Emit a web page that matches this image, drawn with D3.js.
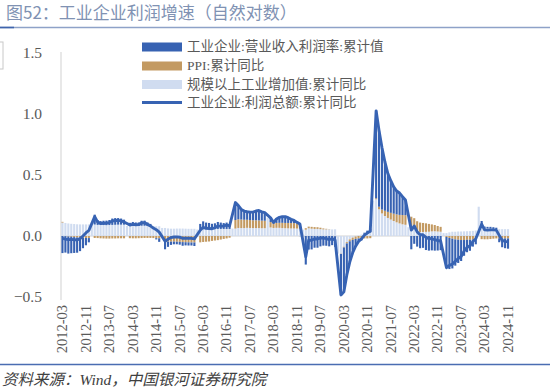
<!DOCTYPE html>
<html><head><meta charset="utf-8">
<script src="https://cdn.jsdelivr.net/npm/d3@7"></script>
<style>
html,body{margin:0;padding:0;background:#fff;}
svg{display:block;}
</style></head>
<body>
<svg id="chart" width="550" height="392"></svg>
<script>
// ---------- DATA (natural-log growth rates) ----------
const months = [
"2012-03","2012-04","2012-05","2012-06","2012-07","2012-08","2012-09","2012-10","2012-11","2012-12",
"2013-01","2013-02","2013-03","2013-04","2013-05","2013-06","2013-07","2013-08","2013-09","2013-10","2013-11","2013-12",
"2014-01","2014-02","2014-03","2014-04","2014-05","2014-06","2014-07","2014-08","2014-09","2014-10","2014-11","2014-12",
"2015-01","2015-02","2015-03","2015-04","2015-05","2015-06","2015-07","2015-08","2015-09","2015-10","2015-11","2015-12",
"2016-01","2016-02","2016-03","2016-04","2016-05","2016-06","2016-07","2016-08","2016-09","2016-10","2016-11","2016-12",
"2017-01","2017-02","2017-03","2017-04","2017-05","2017-06","2017-07","2017-08","2017-09","2017-10","2017-11","2017-12",
"2018-01","2018-02","2018-03","2018-04","2018-05","2018-06","2018-07","2018-08","2018-09","2018-10","2018-11","2018-12",
"2019-01","2019-02","2019-03","2019-04","2019-05","2019-06","2019-07","2019-08","2019-09","2019-10","2019-11","2019-12",
"2020-01","2020-02","2020-03","2020-04","2020-05","2020-06","2020-07","2020-08","2020-09","2020-10","2020-11","2020-12",
"2021-01","2021-02","2021-03","2021-04","2021-05","2021-06","2021-07","2021-08","2021-09","2021-10","2021-11","2021-12",
"2022-01","2022-02","2022-03","2022-04","2022-05","2022-06","2022-07","2022-08","2022-09","2022-10","2022-11","2022-12",
"2023-01","2023-02","2023-03","2023-04","2023-05","2023-06","2023-07","2023-08","2023-09","2023-10","2023-11","2023-12",
"2024-01","2024-02","2024-03","2024-04","2024-05","2024-06","2024-07","2024-08","2024-09","2024-10","2024-11"
];

// 工业企业:营业收入利润率:累计值 (contribution)
const margin = [
-0.140,-0.135,-0.140,-0.135,-0.130,-0.125,-0.110,-0.085,-0.060,-0.035,
null,0.081,0.040,0.032,0.035,0.037,0.041,0.052,0.055,0.054,0.050,0.041,
null,0.026,0.032,0.028,0.028,0.041,0.042,0.029,0.017,0.001,-0.010,-0.029,
null,-0.063,-0.043,-0.027,-0.022,-0.021,-0.023,-0.030,-0.026,-0.026,-0.025,-0.029,
null,0.046,0.064,0.054,0.050,0.042,0.046,0.057,0.052,0.048,0.052,0.038,
null,0.143,0.112,0.083,0.071,0.066,0.065,0.067,0.076,0.081,0.072,0.066,
null,0.035,0.003,0.033,0.045,0.051,0.051,0.043,0.031,0.022,0.009,-0.001,
null,-0.234,-0.111,-0.110,-0.096,-0.096,-0.085,-0.079,-0.080,-0.085,-0.075,-0.087,
null,-0.336,-0.363,-0.259,-0.171,-0.105,-0.060,-0.029,-0.016,0.009,0.021,0.030,
null,0.717,0.624,0.506,0.400,0.314,0.263,0.219,0.192,0.179,0.150,0.125,
null,-0.109,-0.064,-0.087,-0.100,-0.097,-0.115,-0.120,-0.118,-0.120,-0.119,-0.116,
null,-0.244,-0.255,-0.244,-0.215,-0.190,-0.172,-0.129,-0.102,-0.090,-0.057,-0.038,
null,0.055,0.018,0.014,0.015,0.014,0.011,-0.032,-0.073,-0.080,-0.084
];

// PPI:累计同比
const ppi = [
0.006,-0.001,-0.004,-0.006,-0.009,-0.012,-0.014,-0.015,-0.016,-0.017,
null,-0.016,-0.017,-0.019,-0.020,-0.021,-0.021,-0.020,-0.020,-0.019,-0.019,-0.019,
null,-0.018,-0.019,-0.019,-0.018,-0.017,-0.016,-0.016,-0.016,-0.017,-0.018,-0.019,
null,-0.046,-0.046,-0.046,-0.046,-0.047,-0.048,-0.050,-0.051,-0.052,-0.053,-0.053,
null,-0.052,-0.049,-0.047,-0.045,-0.040,-0.037,-0.034,-0.029,-0.024,-0.020,-0.014,
null,0.070,0.071,0.070,0.068,0.066,0.065,0.064,0.064,0.063,0.062,0.061,
null,0.044,0.041,0.040,0.041,0.043,0.043,0.044,0.044,0.044,0.042,0.039,
null,0.012,0.014,0.015,0.015,0.014,0.012,0.008,0.005,0.002,0.000,-0.002,
null,-0.002,-0.006,-0.011,-0.015,-0.019,-0.020,-0.020,-0.020,-0.020,-0.020,-0.018,
null,0.008,0.021,0.032,0.043,0.050,0.055,0.060,0.065,0.070,0.076,0.078,
null,0.086,0.083,0.082,0.078,0.074,0.070,0.064,0.057,0.051,0.045,0.040,
null,-0.008,-0.016,-0.022,-0.028,-0.031,-0.033,-0.033,-0.031,-0.031,-0.030,-0.030,
null,-0.026,-0.027,-0.027,-0.025,-0.022,-0.020,-0.019,-0.019,-0.020,-0.020
];

// 规模以上工业增加值:累计同比
const iva = [
0.110,0.107,0.103,0.100,0.098,0.096,0.095,0.095,0.095,0.095,
0.094,0.094,0.091,0.090,0.090,0.089,0.090,0.091,0.092,0.093,0.093,0.093,
0.082,0.082,0.083,0.083,0.083,0.084,0.084,0.082,0.082,0.081,0.080,0.080,
0.066,0.066,0.062,0.060,0.060,0.061,0.061,0.061,0.060,0.059,0.059,0.059,
0.053,0.053,0.056,0.056,0.057,0.058,0.058,0.058,0.058,0.058,0.058,0.058,
0.061,0.061,0.066,0.065,0.065,0.067,0.066,0.065,0.065,0.065,0.064,0.064,
0.150,0.070,0.066,0.067,0.067,0.065,0.064,0.063,0.062,0.062,0.061,0.060,
0.052,0.052,0.063,0.060,0.058,0.058,0.056,0.054,0.054,0.054,0.054,0.055,
-0.145,-0.145,-0.088,-0.050,-0.028,-0.013,-0.004,0.004,0.012,0.018,0.023,0.028,
0.290,0.301,0.219,0.185,0.164,0.148,0.135,0.123,0.112,0.103,0.096,0.092,
0.072,0.072,0.063,0.039,0.032,0.033,0.034,0.035,0.038,0.039,0.037,0.035,
0.024,0.024,0.030,0.035,0.035,0.037,0.037,0.038,0.039,0.040,0.042,0.045,
0.240,0.068,0.059,0.061,0.060,0.058,0.057,0.056,0.056,0.056,0.056
];

// 工业企业:利润总额:累计同比 (line)
const profit = [
-0.020,-0.025,-0.030,-0.028,-0.030,-0.033,-0.022,0.000,0.025,0.045,
null,0.159,0.114,0.103,0.105,0.105,0.110,0.123,0.127,0.128,0.124,0.115,
null,0.090,0.096,0.092,0.093,0.108,0.110,0.095,0.083,0.065,0.052,0.032,
null,-0.043,-0.027,-0.013,-0.008,-0.007,-0.010,-0.019,-0.017,-0.019,-0.019,-0.023,
null,0.047,0.071,0.063,0.062,0.060,0.067,0.081,0.081,0.082,0.090,0.082,
null,0.274,0.249,0.218,0.204,0.199,0.196,0.196,0.205,0.209,0.198,0.191,
null,0.149,0.110,0.140,0.153,0.159,0.158,0.150,0.137,0.128,0.112,0.098,
null,-0.170,-0.034,-0.035,-0.023,-0.024,-0.017,-0.017,-0.021,-0.029,-0.021,-0.034,
null,-0.483,-0.457,-0.320,-0.214,-0.137,-0.084,-0.045,-0.024,0.007,0.024,0.040,
null,1.026,0.864,0.723,0.607,0.512,0.453,0.402,0.369,0.352,0.322,0.295,
null,0.049,0.082,0.034,0.010,0.010,-0.011,-0.021,-0.023,-0.030,-0.037,-0.041,
null,-0.260,-0.241,-0.231,-0.208,-0.184,-0.168,-0.124,-0.094,-0.081,-0.045,-0.023,
null,0.097,0.050,0.048,0.050,0.050,0.048,0.005,-0.036,-0.044,-0.048
];

const xTickLabels = ["2012-03","2012-11","2013-07","2014-03","2014-11","2015-07","2016-03","2016-11",
"2017-07","2018-03","2018-11","2019-07","2020-03","2020-11","2021-07","2022-03","2022-11","2023-07","2024-03","2024-11"];
const yTicks = [-0.5, 0.0, 0.5, 1.0, 1.5];

const seriesNames = ["工业企业:营业收入利润率:累计值","PPI:累计同比","规模以上工业增加值:累计同比","工业企业:利润总额:累计同比"];
const colors = {margin:"#3762b2", ppi:"#c39a62", iva:"#d0dcf0", line:"#3763b3"};

// ---------- CHART ----------
const svg = d3.select("#chart");
const W = 550, H = 392;
const plotL = 61, plotR = 509.5, plotT = 53, plotB = 297;

const rows = months.map((m,i)=>({m, margin:margin[i], ppi:ppi[i], iva:iva[i], profit:profit[i]}));

const x = d3.scaleBand().domain(months).range([plotL, plotR]).paddingInner(0.28).paddingOuter(0.14);
const y = d3.scaleLinear().domain([-0.5, 1.5]).range([plotB, plotT]);

const serif = "'Liberation Serif','Noto Sans CJK SC',serif";
const cjk = "'Noto Sans CJK SC','Noto Sans',sans-serif";

// title
svg.append("text").attr("x", 6).attr("y", 11).attr("dominant-baseline","central")
  .attr("font-family", cjk).attr("font-size", 17).attr("fill", "#8092b3")
  .text("图52：工业企业利润增速（自然对数）");
svg.append("line").attr("x1",0).attr("x2",W).attr("y1",27.5).attr("y2",27.5)
  .attr("stroke","#8ea2c8").attr("stroke-width",1.3);
svg.append("line").attr("x1",0).attr("x2",14).attr("y1",27.5).attr("y2",27.5)
  .attr("stroke","#3f64ad").attr("stroke-width",1.6);

// small box at the left edge
svg.append("rect").attr("x",-20).attr("y",42).attr("width",23).attr("height",27)
  .attr("fill","#fff").attr("stroke","#c8c8c8").attr("stroke-width",1);

// y axis line
svg.append("line").attr("x1",plotL).attr("x2",plotL).attr("y1",plotT-1).attr("y2",plotB+3)
  .attr("stroke","#d9d9d9").attr("stroke-width",1.2);
// zero line
svg.append("line").attr("x1",plotL).attr("x2",plotR).attr("y1",y(0)).attr("y2",y(0))
  .attr("stroke","#d4d4d4").attr("stroke-width",1.2);

// y tick labels
const yAxis = d3.axisLeft(y).tickValues(yTicks).tickFormat(d3.format(".1f")).tickSize(0).tickPadding(0);
const gy = svg.append("g").attr("transform",`translate(42,0)`).call(yAxis);
gy.select(".domain").remove();
gy.selectAll("text").attr("font-family", serif).attr("font-size", 15.5).attr("fill","#595959");

// stacked bars
const stack = d3.stack().keys(["iva","ppi","margin"])
  .value((d,k)=> d[k]==null ? 0 : d[k])
  .offset(d3.stackOffsetDiverging);
const stacked = stack(rows);
const gBars = svg.append("g");
stacked.forEach(layer=>{
  gBars.append("g").attr("fill", colors[layer.key])
    .selectAll("rect").data(layer.filter(d=> d.data[layer.key]!=null && d[1]!==d[0])).join("rect")
    .attr("x", d=> x(d.data.m))
    .attr("width", x.bandwidth())
    .attr("y", d=> y(Math.max(d[0],d[1])))
    .attr("height", d=> Math.abs(y(d[0])-y(d[1])));
});

// line
const lineGen = d3.line().x(d=> x(d.m)+x.bandwidth()/2).y(d=> y(d.profit));
svg.append("path").datum(rows.filter(d=> d.profit!=null))
  .attr("d", lineGen).attr("fill","none").attr("stroke",colors.line)
  .attr("stroke-width",2.9).attr("stroke-linejoin","round");

// x tick labels (rotated)
const xAxis = d3.axisBottom(x).tickValues(xTickLabels).tickSize(0).tickPadding(0);
const gx = svg.append("g").attr("transform",`translate(0,${plotB+8})`).call(xAxis);
gx.select(".domain").remove();
gx.selectAll("text").attr("font-family", serif).attr("font-size", 14.5).attr("fill","#595959")
  .attr("text-anchor","end").attr("transform","rotate(-90)")
  .attr("x",0).attr("y",0).attr("dy","0.33em");

// legend
const lg = svg.append("g").attr("font-family", serif).attr("font-size", 13.5).attr("fill","#595959");
const legendRows = [
  {name:seriesNames[0], type:"rect", color:colors.margin, y:47},
  {name:seriesNames[1], type:"rect", color:colors.ppi, y:66},
  {name:seriesNames[2], type:"rect", color:colors.iva, y:84.5},
  {name:seriesNames[3], type:"line", color:colors.line, y:102.5}
];
legendRows.forEach(r=>{
  if(r.type==="rect"){
    lg.append("rect").attr("x",142).attr("y",r.y-4.5).attr("width",40).attr("height",9).attr("fill",r.color);
  } else {
    lg.append("line").attr("x1",142).attr("x2",182).attr("y1",r.y).attr("y2",r.y)
      .attr("stroke",r.color).attr("stroke-width",2.9);
  }
  lg.append("text").attr("x",187).attr("y",r.y-0.5).attr("dominant-baseline","central").text(r.name);
});

// source
svg.append("line").attr("x1",0).attr("x2",W).attr("y1",364.5).attr("y2",364.5)
  .attr("stroke","#4a6db2").attr("stroke-width",1.5);
svg.append("text").attr("x",2).attr("y",379).attr("dominant-baseline","central")
  .attr("font-family", serif).attr("font-size",15.5).attr("font-style","italic").attr("fill","#404040")
  .text("资料来源：Wind，中国银河证券研究院");
</script>
</body></html>
